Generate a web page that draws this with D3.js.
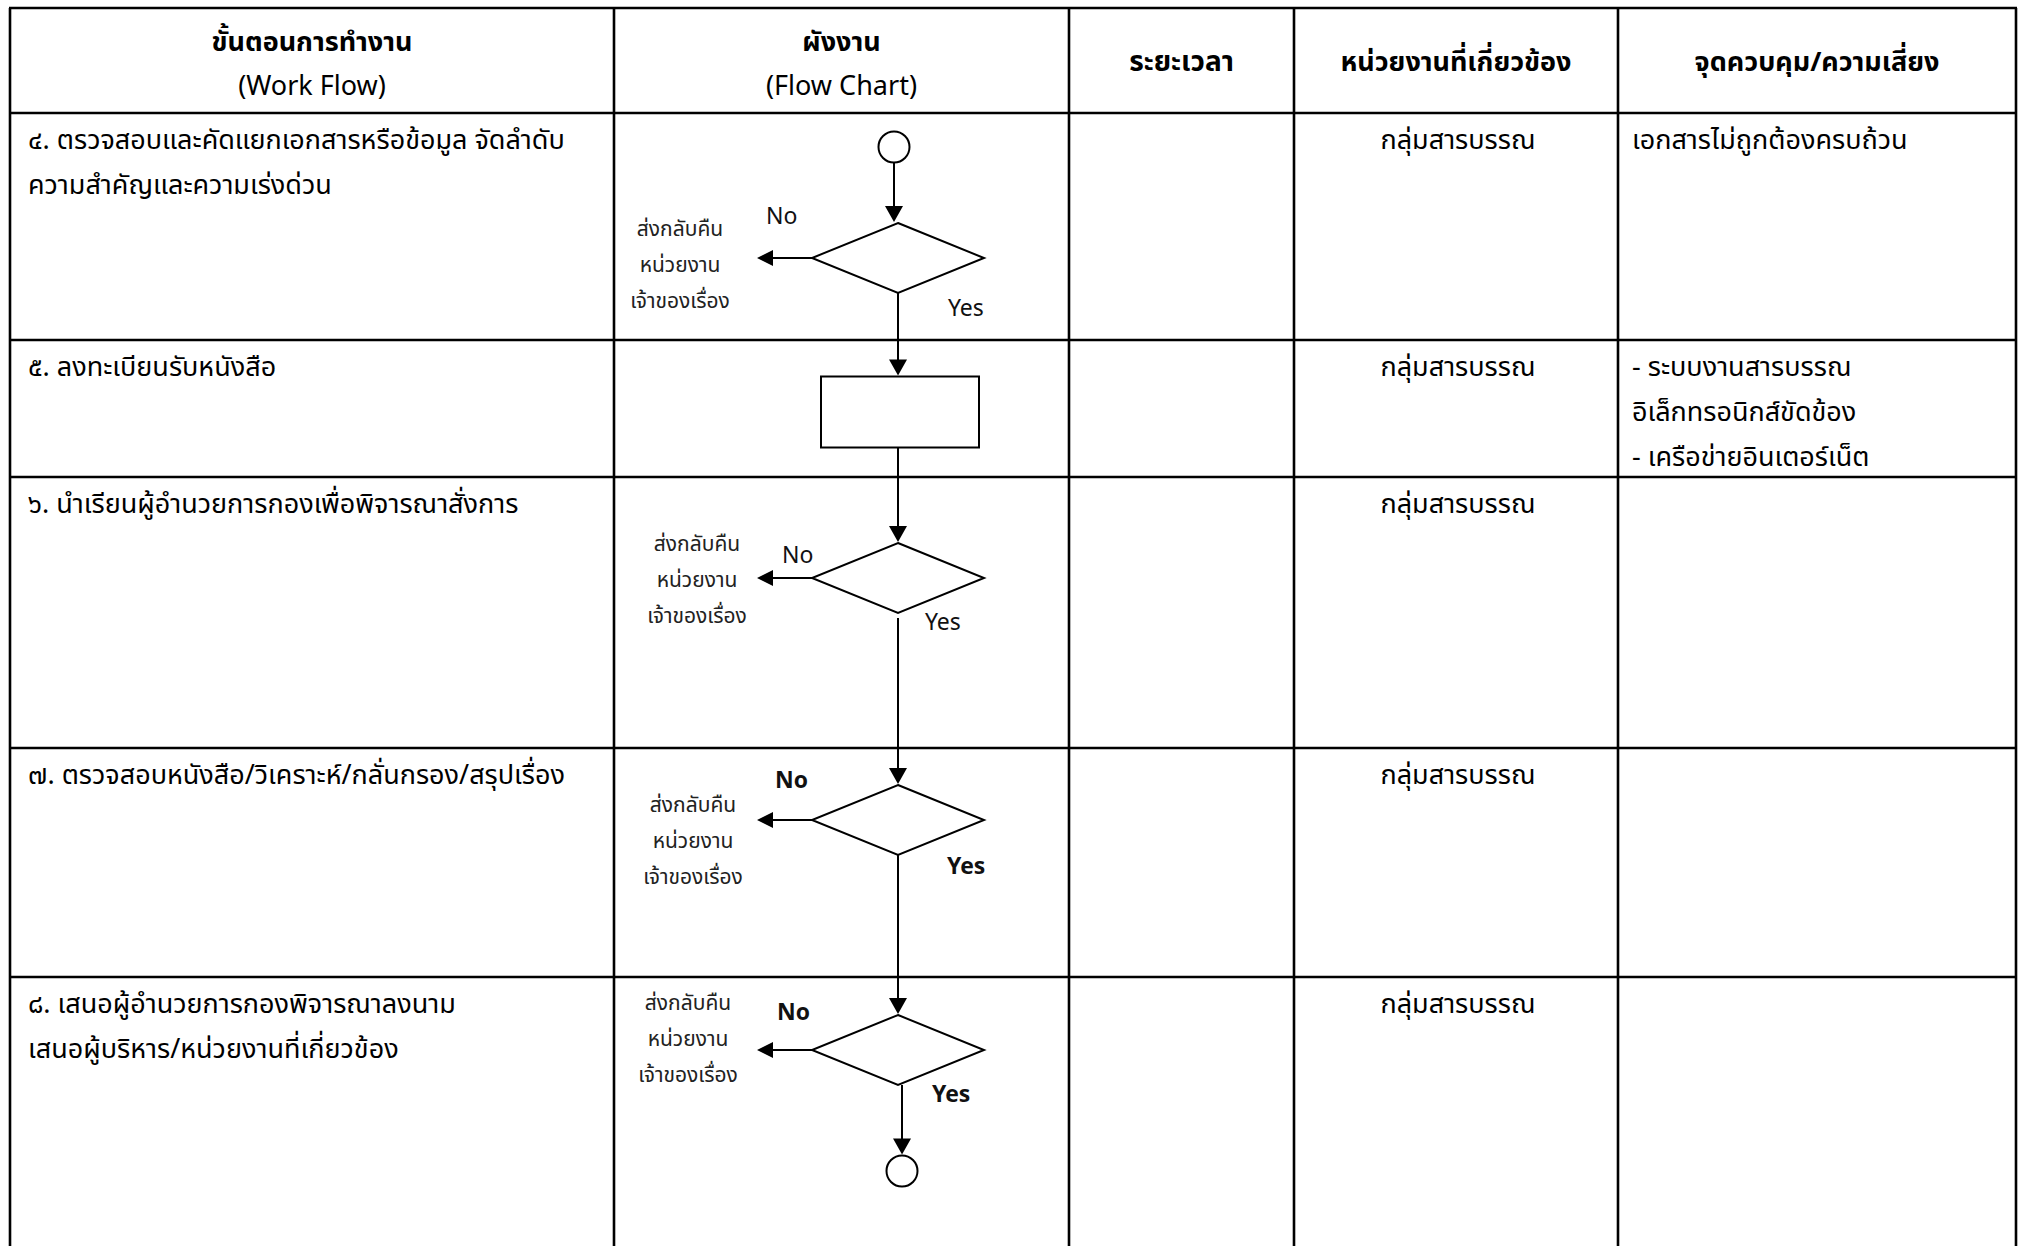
<!DOCTYPE html>
<html><head><meta charset="utf-8">
<script src="https://cdn.jsdelivr.net/npm/d3@7"></script>
<style>
html,body{margin:0;padding:0;background:#fff;}
svg{display:block;}
</style></head>
<body>
<script>
// ---------- data ----------
const headers = [["ขั้นตอนการทำงาน","(Work Flow)"],["ผังงาน","(Flow Chart)"],["ระยะเวลา"],["หน่วยงานที่เกี่ยวข้อง"],["จุดควบคุม/ความเสี่ยง"]];
const steps = [
  ["๔. ตรวจสอบและคัดแยกเอกสารหรือข้อมูล จัดลำดับ","ความสำคัญและความเร่งด่วน"],
  ["๕. ลงทะเบียนรับหนังสือ"],
  ["๖. นำเรียนผู้อำนวยการกองเพื่อพิจารณาสั่งการ"],
  ["๗. ตรวจสอบหนังสือ/วิเคราะห์/กลั่นกรอง/สรุปเรื่อง"],
  ["๘. เสนอผู้อำนวยการกองพิจารณาลงนาม","เสนอผู้บริหาร/หน่วยงานที่เกี่ยวข้อง"]
];
const durations = ["","","","",""];
const units = ["กลุ่มสารบรรณ","กลุ่มสารบรรณ","กลุ่มสารบรรณ","กลุ่มสารบรรณ","กลุ่มสารบรรณ"];
const risks = [["เอกสารไม่ถูกต้องครบถ้วน"],["- ระบบงานสารบรรณ","อิเล็กทรอนิกส์ขัดข้อง","- เครือข่ายอินเตอร์เน็ต"],[],[],[]];
const returnLabel = ["ส่งกลับคืน","หน่วยงาน","เจ้าของเรื่อง"];
const flowNodes = ["start","decision","process","decision","decision","decision","end"];
const noBold = [false,false,true,true];

// ---------- layout ----------
const W = 2020, H = 1246;
const colEdges = [10, 614, 1069, 1294, 1618, 2016];
const rowEdges = [8, 113, 340, 477, 748, 977, 1246];
const thaiFont = "'Noto Sans Thai','Noto Sans Thai UI','Noto Sans','DejaVu Sans',sans-serif";
const bodySize = 27;

const svg = d3.select("body").append("svg").attr("width", W).attr("height", H);

// table lines
const g = svg.append("g").attr("stroke", "#000").attr("stroke-width", 2.6).attr("fill", "none");
colEdges.forEach(cx => g.append("line").attr("x1", cx).attr("x2", cx).attr("y1", rowEdges[0]).attr("y2", H));
rowEdges.slice(0, -1).forEach(ry => g.append("line").attr("x1", colEdges[0]-1).attr("x2", colEdges[5]+1).attr("y1", ry).attr("y2", ry));

function addLines(lines, xPos, yStart, anchor, size, weight, dy, color) {
  const t = svg.append("text").attr("font-family", thaiFont).attr("font-size", size)
    .attr("font-weight", weight || "normal").attr("text-anchor", anchor).attr("fill", color || "#000");
  lines.forEach((l, i) => t.append("tspan").attr("x", xPos).attr("y", yStart + i * dy)
    .attr("dominant-baseline", "central").text(l));
  return t;
}

// headers
const headerCenters = colEdges.slice(0, -1).map((c, i) => (c + colEdges[i + 1]) / 2);
headers.forEach((h, i) => {
  if (h.length === 2) {
    addLines([h[0]], headerCenters[i], 42, "middle", bodySize, "bold", 0);
    addLines([h[1]], headerCenters[i], 86, "middle", bodySize, "normal", 0);
  } else {
    addLines(h, headerCenters[i], 62, "middle", i === 2 ? 28 : bodySize, "bold", 0);
  }
});

// rows
const rowTop = rowEdges.slice(1, 6);
steps.forEach((s, i) => addLines(s, colEdges[0] + 18, rowTop[i] + 27, "start", bodySize, "normal", 45));
durations.forEach((d, i) => addLines([d], headerCenters[2], rowTop[i] + 27, "middle", bodySize, "normal", 45));
units.forEach((u, i) => addLines([u], headerCenters[3] + 2, rowTop[i] + 27, "middle", bodySize, "normal", 45));
risks.forEach((r, i) => addLines(r, colEdges[4] + 14, rowTop[i] + 27, "start", bodySize, "normal", 45));

// ---------- flow chart ----------
const fx = 898;
const fg = svg.append("g").attr("stroke", "#000").attr("stroke-width", 2).attr("fill", "#fff");
const nodeY = [147, 258, 412, 578, 820, 1050, 1171];
const nodeH = {start: 31, end: 31, decision: 70, process: 71};
const nodeW = {decision: 172, process: 158};
const decisionIdx = [];
flowNodes.forEach((n, i) => {
  const cy = nodeY[i];
  if (n === "start" || n === "end") {
    fg.append("circle").attr("cx", n === "end" ? fx + 4 : fx - 4).attr("cy", cy).attr("r", 15.5);
  } else if (n === "decision") {
    const w = nodeW.decision / 2, h = nodeH.decision / 2;
    fg.append("path").attr("d", `M${fx},${cy-h}L${fx+w},${cy}L${fx},${cy+h}L${fx-w},${cy}Z`);
    decisionIdx.push(i);
  } else {
    fg.append("rect").attr("x", fx - nodeW.process/2 + 2).attr("y", cy - nodeH.process/2)
      .attr("width", nodeW.process).attr("height", nodeH.process);
  }
});

function arrowDown(xp, y1, y2) {
  fg.append("line").attr("x1", xp).attr("x2", xp).attr("y1", y1).attr("y2", y2 - 10);
  fg.append("path").attr("fill", "#000").attr("stroke", "none")
    .attr("d", `M${xp-9},${y2-16}L${xp+9},${y2-16}L${xp},${y2}Z`);
}
function arrowLeft(x1, x2, yp) {
  fg.append("line").attr("x1", x1).attr("x2", x2 + 10).attr("y1", yp).attr("y2", yp);
  fg.append("path").attr("fill", "#000").attr("stroke", "none")
    .attr("d", `M${x2+16},${yp-8}L${x2+16},${yp+8}L${x2},${yp}Z`);
}
for (let i = 0; i < flowNodes.length - 1; i++) {
  const a = flowNodes[i], b = flowNodes[i+1];
  const bottom = nodeY[i] + nodeH[a] / 2 + (a === "decision" && i === 3 ? 5 : 0);
  const top = nodeY[i+1] - nodeH[b] / 2 - 1;
  arrowDown(fx - (i === 0 ? 4 : 0) + (i === 5 ? 4 : 0), bottom, top);
}
const noLabelPos = [[766, 217], [782, 556], [775, 781], [777, 1013]];
const yesLabelPos = [[948, 309], [925, 623], [947, 867], [932, 1095]];
const retPos = [[680, 229], [697, 544], [693, 805], [688, 1003]];
decisionIdx.forEach((ni, k) => {
  const cy = nodeY[ni];
  arrowLeft(fx - nodeW.decision / 2, 757, cy);
  addLines(["No"], noLabelPos[k][0], noLabelPos[k][1], "start", 23, noBold[k] ? "bold" : "normal", 0, "#111");
  addLines(["Yes"], yesLabelPos[k][0], yesLabelPos[k][1], "start", 23, noBold[k] ? "bold" : "normal", 0, "#111");
  addLines(returnLabel, retPos[k][0], retPos[k][1], "middle", 21, "normal", 36, "#222");
});
</script>
</body></html>
